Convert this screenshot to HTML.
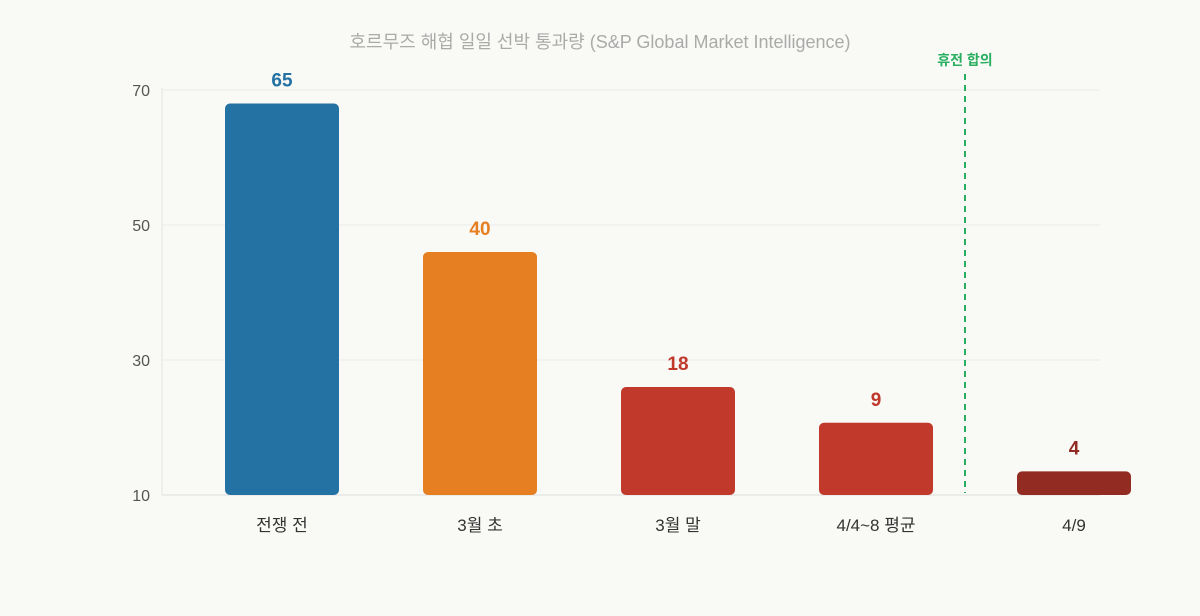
<!DOCTYPE html>
<html><head><meta charset="utf-8">
<style>
html,body{margin:0;padding:0;background:#f9f9f5;}
svg{display:block;font-family:"Liberation Sans","Noto Sans CJK KR",sans-serif;}
</style></head>
<body>
<svg id="chart" width="1200" height="616">
<rect width="1200" height="616" fill="#f9f9f5"/>
<text x="600" y="48" text-anchor="middle" font-size="18" fill="#aaaaaa">호르무즈 해협 일일 선박 통과량 (S&amp;P Global Market Intelligence)</text>
<g id="grid"></g><g id="bars"></g><g id="labels"></g>
</svg>
<script>
const categories=["전쟁 전","3월 초","3월 말","4/4~8 평균","4/9"];
const labelValues=[65,40,18,9,4];
const barValues=[68,46,26,20.7,13.5];
const colors=["#2471a3","#e67e22","#c0392b","#c0392b","#922b21"];
const yTicks=[10,30,50,70];
const ns="http://www.w3.org/2000/svg";
const y=v=>495-(v-10)*6.75;
const x=i=>282+i*198;
function mk(tag,attrs,parent,text){const e=document.createElementNS(ns,tag);for(const k in attrs)e.setAttribute(k,attrs[k]);if(text!==undefined)e.textContent=text;parent.appendChild(e);return e;}
const grid=document.getElementById('grid'),bars=document.getElementById('bars'),labels=document.getElementById('labels');
yTicks.forEach(t=>{
 const l=mk('line',{x1:162,x2:1100,y1:y(t),y2:y(t),stroke:t===10?'#dddddd':'#ececec','stroke-width':1},grid);
 
 
 const tx=mk('text',{x:150,y:y(t)+6,'text-anchor':'end','font-size':16,fill:'#555'},grid,t);
 
 
});
const ax=mk('line',{x1:162,x2:162,y1:88,y2:495,stroke:'#e4e4e4'},grid);


categories.forEach((c,i)=>{
 const b=mk('rect',{x:x(i)-57,y:y(barValues[i]),width:114,height:495-y(barValues[i]),rx:5,fill:colors[i]},bars);
 
 
 const v=mk('text',{x:x(i),y:y(barValues[i])-17,'text-anchor':'middle','font-size':19,'font-weight':'bold',fill:colors[i]},labels,labelValues[i]);
 
 
 const cl=mk('text',{x:x(i),y:531,'text-anchor':'middle','font-size':17,fill:'#333'},labels,c);
 
 
});
const d=mk('line',{x1:965,x2:965,y1:74,y2:493,stroke:'#27ae60','stroke-width':2,'stroke-dasharray':'6,5'},labels);


const dt=mk('text',{x:965,y:65,'text-anchor':'middle','font-size':14,'font-weight':'bold',fill:'#27ae60'},labels,'휴전 합의');


</script>
</body></html>
